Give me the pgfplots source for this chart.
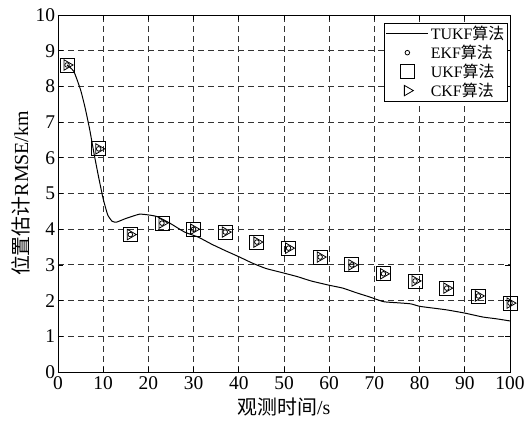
\documentclass[border=0pt]{standalone}
\usepackage{pgfplots}
\pgfplotsset{compat=1.18}
\usepackage{fontspec}
\setmainfont{Liberation Serif}
\newfontfamily\cjk{Noto Sans CJK SC}
\usetikzlibrary{calc}
\pgfplotsset{
  lineleg/.style={legend image code/.code={\draw[##1] (0bp,0bp) -- (42bp,0bp);}},
  markleg/.style={legend image code/.code={\draw[mark repeat=2,mark phase=2,##1] plot coordinates {(0bp,0bp)(21bp,0bp)(42bp,0bp)};}},
}
\begin{document}
\begin{tikzpicture}
\begin{axis}[
  name=ax,
  scale only axis,
  width=452bp, height=357bp,
  xmin=0, xmax=100, ymin=0, ymax=10,
  xtick={0,10,...,100}, ytick={0,1,...,10},
  xticklabels={0,10,20,30,40,50,60,70,80,90,100},
  yticklabels={0,1,2,3,4,5,6,7,8,9,10},
  tick align=inside,
  major tick length=5bp,
  every tick/.style={black, line width=0.7bp},
  axis line style={black, line width=0.9bp},
  grid=major,
  major grid style={black!80, dash pattern=on 6bp off 4bp, line width=0.8bp},
  tick label style={font=\fontsize{19.5}{21}\selectfont},
  xticklabel style={yshift=-1bp},
  yticklabel style={xshift=0.5bp},
  xlabel={{\cjk 观测时间}/s},
  ylabel={{\cjk 位置估计}RMSE/km},
  label style={font=\fontsize{20}{22}\selectfont},
  xlabel style={yshift=-1bp},
  ylabel style={yshift=-1bp},
  legend style={at={(0.995,0.978)}, anchor=north east, draw=black, line width=0.8bp,
    font=\fontsize{16}{18}\selectfont, legend cell align=left, inner sep=1bp,
    row sep=0bp},
]
\addplot[black, line width=1bp, smooth, tension=0.3, lineleg]
coordinates {
(2,8.6)(3.5,8.42)(5,7.9)(6,7.4)(7,6.8)(8,6.1)(9,5.45)(10,4.85)(11,4.4)(12,4.22)
(13,4.2)(15,4.3)(18,4.42)(20,4.4)(22,4.35)(25,4.15)(28,3.92)(31,3.78)(34,3.58)
(37,3.4)(40,3.23)(43,3.05)(46,2.9)(50,2.77)(53,2.67)(56,2.55)(60,2.43)(63,2.35)
(66,2.22)(69,2.1)(72,1.97)(75,1.94)(78,1.91)(80,1.84)(83,1.79)(86,1.74)(90,1.65)
(94,1.54)(97,1.49)(100,1.43)};
\addlegendentry{TUKF{\cjk 算法}}
\addplot[only marks, mark=o, mark size=2.3bp, black, line width=0.8bp, markleg]
coordinates {
(2,8.6)(9,6.25)(16,3.85)(23,4.17)(30,4.0)(37,3.92)(44,3.64)(51,3.47)(58,3.22)
(65,3.0)(72,2.75)(79,2.55)(86,2.35)(93,2.13)(100,1.93)};
\addlegendentry{EKF{\cjk 算法}}
\addplot[only marks, mark=square, mark size=7bp, black, line width=0.8bp, markleg]
coordinates {
(2,8.6)(9,6.25)(16,3.85)(23,4.17)(30,4.0)(37,3.92)(44,3.64)(51,3.47)(58,3.22)
(65,3.0)(72,2.75)(79,2.55)(86,2.35)(93,2.13)(100,1.93)};
\addlegendentry{UKF{\cjk 算法}}
\addplot[only marks, mark=triangle, mark size=6bp, mark options={rotate=-90}, black, line width=0.8bp, markleg]
coordinates {
(2,8.6)(9,6.25)(16,3.85)(23,4.17)(30,4.0)(37,3.92)(44,3.64)(51,3.47)(58,3.22)
(65,3.0)(72,2.75)(79,2.55)(86,2.35)(93,2.13)(100,1.93)};
\addlegendentry{CKF{\cjk 算法}}
\end{axis}
\pgfresetboundingbox
\path ($(ax.south west)+(-58bp,-50bp)$) rectangle ($(ax.north east)+(14bp,15bp)$);
\end{tikzpicture}
\end{document}
